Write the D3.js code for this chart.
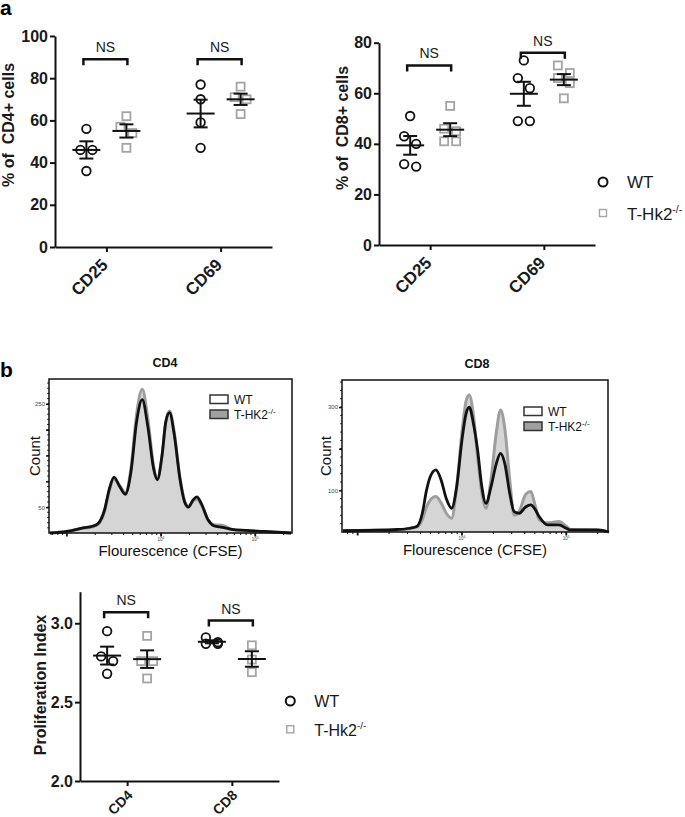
<!DOCTYPE html>
<html><head><meta charset="utf-8">
<script src="https://cdn.jsdelivr.net/npm/d3@7"></script>
<style>
body{margin:0;background:#fff}
svg{display:block;font-family:"Liberation Sans",Arial,sans-serif}
</style></head><body>
<svg id="c" width="685" height="817"></svg>
<script>
// ---------------- data ----------------
const activationCats = ["CD25", "CD69"];
const cd4Wt = [[56, 46, 46, 36], [77, 70, 59, 47]];
const cd4Ko = [[62, 57, 54, 47], [76, 71, 70, 63]];
const cd4Ticks = [0, 20, 40, 60, 80, 100];
const cd4NS = [89, 89];
const cd8Wt = [[51, 43, 40, 32, 31], [73, 66, 62, 49, 49]];
const cd8Ko = [[55, 46, 45, 41, 41], [71, 68, 66, 64, 58]];
const cd8Ticks = [0, 20, 40, 60, 80];
const cd8NS = [71, 76];

const profCats = ["CD4", "CD8"];
const profWt = [[2.95, 2.79, 2.76, 2.68], [2.91, 2.88, 2.87, 2.87]];
const profKo = [[2.92, 2.76, 2.76, 2.65], [2.86, 2.77, 2.69]];
const profTicks = [2.0, 2.5, 3.0];
const profNS = [3.07, 3.017];

const legendLabels = ["WT", "T-Hk2"];
const histLegendLabels = ["WT", "T-HK2"];

// CFSE histograms: log10(fluorescence), counts
const cd4HistLogF = [2.82,3.00,3.17,3.27,3.33,3.40,3.45,3.50,3.56,3.62,3.68,3.74,3.80,3.86,3.92,3.96,4.01,4.05,4.09,4.14,4.20,4.25,4.29,4.34,4.38,4.43,4.50,4.56,4.65,4.75,4.90,5.10,5.38];
const cd4HistWt   = [0,3,10,13,18,45,85,108,90,75,118,215,258,205,125,103,150,215,233,190,105,60,50,64,70,56,25,14,11,7,5,3,0];
const cd4HistKo   = [0,3,9,12,17,42,82,104,92,78,125,230,278,220,130,105,150,215,236,195,108,62,52,62,66,54,25,16,15,7,4,2,0];
const cd4YTicks = [50, 100, 150, 200, 250];
const cd4YLabels = [50, 250];

const cd8HistLogF = [2.86,3.10,3.38,3.50,3.57,3.62,3.66,3.70,3.75,3.80,3.85,3.90,3.95,4.00,4.04,4.07,4.11,4.15,4.19,4.23,4.28,4.33,4.37,4.41,4.46,4.50,4.55,4.61,4.66,4.70,4.74,4.82,4.93,5.00,5.04,5.30,5.41];
const cd8HistWt   = [3,4,6,9,14,45,100,135,149,125,80,57,110,221,285,300,260,197,110,69,110,165,189,165,90,49,45,60,65,55,37,17,17,9,5,5,0];
const cd8HistKo   = [3,4,5,8,12,30,60,78,85,70,45,33,110,240,315,329,280,180,95,57,130,240,293,250,120,40,50,90,97,65,30,22,25,14,6,5,0];
const cd8YTicks = [100, 200, 300];
const cd8YLabels = [100, 300];
const xMajorLabels = [4, 5];

// ---------------- drawing ----------------
const svg = d3.select("#c");
const BLACK = "#111", GREY = "#a4a4a4";

function styleAxis(a, fs, bold) {
  a.selectAll("path,line").attr("stroke", BLACK).attr("stroke-width", 2);
  a.selectAll("text").attr("fill", "#1a1a1a").style("font-size", fs + "px")
    .style("font-weight", bold ? "bold" : "normal").style("font-family", "'Liberation Sans',Arial,sans-serif");
}

function clusters(vals, y, thr, sp) {
  const s = vals.slice().sort((a, b) => b - a);
  const out = [];
  let i = 0;
  while (i < s.length) {
    const grp = [s[i]];
    if (i + 1 < s.length && Math.abs(y(s[i]) - y(s[i + 1])) <= thr) grp.push(s[i + 1]);
    grp.forEach((v, k) => out.push({ v, dx: (k - (grp.length - 1) / 2) * sp }));
    i += grp.length;
  }
  return out;
}

function dotPlot(o) {
  const g = svg.append("g");
  const x = d3.scalePoint().domain(o.cats).range([o.x0, o.x1]).padding(0.45);
  const y = d3.scaleLinear().domain(o.domain).range([o.yBot, o.yTop]);
  const ya = g.append("g").attr("transform", `translate(${o.x0},0)`)
    .call(d3.axisLeft(y).tickValues(o.ticks).tickSize(5).tickSizeOuter(0).tickPadding(2).tickFormat(o.fmt));
  styleAxis(ya, 16, true);
  const xa = g.append("g").attr("transform", `translate(0,${o.yBot})`)
    .call(d3.axisBottom(x).tickSize(5).tickSizeOuter(0));
  styleAxis(xa, o.xlFs, true);
  xa.selectAll("text").attr("x", 0).attr("y", 0).attr("dy", 0)
    .attr("text-anchor", "end").attr("transform", `translate(${o.xlDx},${o.xlDy}) rotate(-45)`);

  g.append("text").attr("transform", `translate(${o.labX},${o.labY}) rotate(-90)`)
    .attr("text-anchor", "middle").style("font-size", "16px").style("font-weight", "bold")
    .style("white-space", "pre").attr("fill", "#1a1a1a").text(o.label);

  const off = 20;
  o.cats.forEach((c, i) => {
    [[o.wt[i], -off, "wt"], [o.ko[i], off, "ko"]].forEach(([vals, dx, kind]) => {
      const cx = x(c) + dx;
      const pts = clusters(vals, y, 10.5, 12);
      pts.forEach(p => {
        if (kind === "wt") {
          g.append("circle").attr("cx", cx + p.dx).attr("cy", y(p.v)).attr("r", 4.3)
            .attr("fill", "none").attr("stroke", BLACK).attr("stroke-width", 1.8);
        } else {
          g.append("rect").attr("x", cx + p.dx - 4).attr("y", y(p.v) - 4).attr("width", 8).attr("height", 8)
            .attr("fill", "none").attr("stroke", GREY).attr("stroke-width", 1.8);
        }
      });
      const m = d3.mean(vals), sem = d3.deviation(vals) / Math.sqrt(vals.length);
      const ln = (x1, y1, x2, y2) => g.append("line").attr("x1", x1).attr("y1", y1).attr("x2", x2).attr("y2", y2)
        .attr("stroke", BLACK).attr("stroke-width", 2);
      ln(cx - 14, y(m), cx + 14, y(m));
      ln(cx, y(m + sem), cx, y(m - sem));
      ln(cx - 7, y(m + sem), cx + 7, y(m + sem));
      ln(cx - 7, y(m - sem), cx + 7, y(m - sem));
    });
    // NS bracket
    const by = y(o.ns[i]), bx1 = x(c) - 23, bx2 = x(c) + 21;
    g.append("path").attr("d", `M${bx1},${by + 6}V${by}H${bx2}V${by + 6}`)
      .attr("fill", "none").attr("stroke", BLACK).attr("stroke-width", 2.5);
    g.append("text").attr("x", (bx1 + bx2) / 2).attr("y", by - 7).attr("text-anchor", "middle")
      .style("font-size", "14px").attr("fill", "#1a1a1a").text("NS");
  });
}

function scatterLegend(x, y1, y2, fs) {
  const g = svg.append("g");
  g.append("circle").attr("cx", x).attr("cy", y1).attr("r", 4.5).attr("fill", "none")
    .attr("stroke", BLACK).attr("stroke-width", 2);
  g.append("rect").attr("x", x - 3.5).attr("y", y2 - 3.5).attr("width", 7).attr("height", 7)
    .attr("fill", "none").attr("stroke", GREY).attr("stroke-width", 1.4);
  g.append("text").attr("x", x + 24).attr("y", y1 + 6).style("font-size", fs + "px").attr("fill", "#1a1a1a").text(legendLabels[0]);
  const t = g.append("text").attr("x", x + 24).attr("y", y2 + 7).style("font-size", fs + "px").attr("fill", "#1a1a1a").text(legendLabels[1]);
  t.append("tspan").attr("dy", -7).style("font-size", (fs * 0.62) + "px").text("-/-");
}

function histo(o) {
  const g = svg.append("g");
  const x = d3.scaleLog().domain([10 ** o.lo, 10 ** o.hi]).range([o.x0, o.x1]);
  const y = d3.scaleLinear().domain([0, o.yMax]).range([o.yBot, o.yTop]);
  const data = o.logs.map((l, i) => ({ f: 10 ** l, wt: o.wt[i], ko: o.ko[i] }));
  g.append("path").datum(data)
    .attr("d", d3.area().x(d => x(d.f)).y0(o.yBot).y1(d => y(d.ko)).curve(d3.curveMonotoneX))
    .attr("fill", "#d5d5d5");
  g.append("path").datum(data)
    .attr("d", d3.line().x(d => x(d.f)).y(d => y(d.ko)).curve(d3.curveMonotoneX))
    .attr("fill", "none").attr("stroke", "#9e9e9e").attr("stroke-width", 3);
  g.append("path").datum(data)
    .attr("d", d3.line().x(d => x(d.f)).y(d => y(d.wt)).curve(d3.curveMonotoneX))
    .attr("fill", "none").attr("stroke", BLACK).attr("stroke-width", 2.8);
  g.append("rect").attr("x", o.x0).attr("y", o.yTop).attr("width", o.x1 - o.x0).attr("height", o.yBot - o.yTop)
    .attr("fill", "none").attr("stroke", BLACK).attr("stroke-width", 1.5);
  // y ticks
  const ya = g.append("g").attr("transform", `translate(${o.x0},0)`)
    .call(d3.axisLeft(y).tickValues(o.yTicks).tickSize(3).tickSizeOuter(0).tickPadding(1)
      .tickFormat(d => o.yLabels.includes(d) ? d : ""));
  ya.select(".domain").remove();
  ya.selectAll("line").attr("stroke", BLACK).attr("stroke-width", 1.5);
  ya.selectAll("text").attr("fill", "#444").style("font-size", "6px");
  g.selectAll(null).data(d3.range(o.minorStep, o.yMax, o.minorStep)).enter().append("line")
    .attr("x1", o.x0 - 1.8).attr("x2", o.x0).attr("y1", d => y(d)).attr("y2", d => y(d))
    .attr("stroke", BLACK).attr("stroke-width", 1);
  // x log ticks
  const minor = [];
  for (let k = 2; k <= 5; k++) for (let m = 1; m <= 9; m++) {
    const v = m * 10 ** k;
    if (v >= 10 ** o.lo && v <= 10 ** o.hi) minor.push({ v, major: m === 1 });
  }
  g.selectAll(null).data(minor).enter().append("line")
    .attr("x1", d => x(d.v)).attr("x2", d => x(d.v)).attr("y1", o.yBot).attr("y2", d => o.yBot + (d.major ? 3.5 : 2))
    .attr("stroke", BLACK).attr("stroke-width", d => d.major ? 1.8 : 1);
  xMajorLabels.forEach(k => {
    const t = g.append("text").attr("x", x(10 ** k)).attr("y", o.yBot + 8).attr("text-anchor", "middle")
      .style("font-size", "4.5px").attr("fill", "#444").text("10");
    t.append("tspan").attr("dy", -2).style("font-size", "3.5px").text(k);
  });
  g.append("text").attr("x", o.titleX).attr("y", o.yTop - 12).attr("text-anchor", "middle")
    .style("font-size", "12.5px").style("font-weight", "bold").attr("fill", "#111").text(o.title);
  g.append("text").attr("transform", `translate(${o.countX},${(o.yTop + o.yBot) / 2}) rotate(-90)`)
    .attr("text-anchor", "middle").style("font-size", "15px").attr("fill", "#111").text("Count");
  g.append("text").attr("x", (o.x0 + o.x1) / 2).attr("y", o.yBot + 23).attr("text-anchor", "middle")
    .style("font-size", "15px").attr("fill", "#111").text("Flourescence (CFSE)");
  // legend
  const lx = o.legX, ly = o.legY;
  g.append("rect").attr("x", lx).attr("y", ly).attr("width", 18).attr("height", 8.5)
    .attr("fill", "#fff").attr("stroke", "#333").attr("stroke-width", 1.5);
  g.append("rect").attr("x", lx).attr("y", ly + 15).attr("width", 18).attr("height", 8.5)
    .attr("fill", "#a0a0a0").attr("stroke", "#333").attr("stroke-width", 1.5);
  g.append("text").attr("x", lx + 24).attr("y", ly + 8.5).style("font-size", "12px").attr("fill", "#111").text(histLegendLabels[0]);
  const t = g.append("text").attr("x", lx + 24).attr("y", ly + 24).style("font-size", "12px").attr("fill", "#111").text(histLegendLabels[1]);
  t.append("tspan").attr("dy", -5).style("font-size", "8px").text("-/-");
}

// panel letters
svg.append("text").attr("x", 0).attr("y", 15).style("font-size", "21px").style("font-weight", "bold").text("a");
svg.append("text").attr("x", 0).attr("y", 377).style("font-size", "21px").style("font-weight", "bold").text("b");

dotPlot({ cats: activationCats, x0: 55, x1: 272, yTop: 36, yBot: 247, domain: [0, 100], ticks: cd4Ticks,
  fmt: d3.format("d"), wt: cd4Wt, ko: cd4Ko, ns: cd4NS, label: "% of  CD4+ cells", labX: 14, labY: 125,
  xlFs: 17, xlDx: 2, xlDy: 19 });
dotPlot({ cats: activationCats, x0: 379, x1: 595, yTop: 42.7, yBot: 245, domain: [0, 80], ticks: cd8Ticks,
  fmt: d3.format("d"), wt: cd8Wt, ko: cd8Ko, ns: cd8NS, label: "% of  CD8+ cells", labX: 348, labY: 128,
  xlFs: 17, xlDx: 2, xlDy: 19 });
scatterLegend(603, 182, 213, 17);

histo({ x0: 49, x1: 292, yTop: 379, yBot: 533, lo: 2.81, hi: 5.39, yMax: 298, logs: cd4HistLogF, wt: cd4HistWt, ko: cd4HistKo,
  yTicks: cd4YTicks, yLabels: cd4YLabels, minorStep: 10, title: "CD4", titleX: 165, countX: 40, legX: 210, legY: 395 });
histo({ x0: 342, x1: 608, yTop: 380, yBot: 532, lo: 2.85, hi: 5.40, yMax: 365, logs: cd8HistLogF, wt: cd8HistWt, ko: cd8HistKo,
  yTicks: cd8YTicks, yLabels: cd8YLabels, minorStep: 20, title: "CD8", titleX: 477, countX: 331, legX: 524, legY: 407 });

dotPlot({ cats: profCats, x0: 80, x1: 279, yTop: 591.7, yBot: 781, domain: [2, 3.2], ticks: profTicks,
  fmt: d3.format(".1f"), wt: profWt, ko: profKo, ns: profNS, label: "Proliferation Index", labX: 46, labY: 685,
  xlFs: 14, xlDx: 6, xlDy: 15 });
scatterLegend(290.3, 701, 729.3, 16);
</script>
</body></html>
